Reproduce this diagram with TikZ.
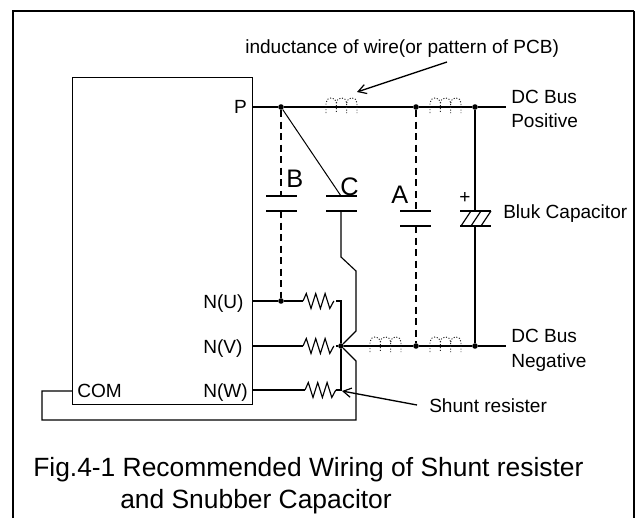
\documentclass[tikz,border=0pt]{standalone}
\usepackage{fontspec}
\setmainfont{Liberation Sans}
\usetikzlibrary{arrows.meta}
\newcommand{\ind}[2]{% left x, wire y
  \draw[indc] (#1,#2+6) -- (#1,#2-4) arc[start angle=180,delta angle=180,radius=5.17] -- ++(0,10)
    (#1+10.33,#2-4) arc[start angle=180,delta angle=180,radius=5.17] -- ++(0,10)
    (#1+20.67,#2-4) arc[start angle=180,delta angle=180,radius=5.17] -- ++(0,10);
}
\newcommand{\res}[2]{% left x, wire y
  \draw[wire] (#1,#2) -- ++(3.3,-7.5) -- ++(4.7,15) -- ++(4.7,-15) -- ++(4.7,15) -- ++(4.7,-15) -- ++(4.7,15) -- ++(4,-7.5);
}
\tikzset{
  x=0.75pt,y=-0.75pt,
  wire/.style={line width=0.85pt,line join=miter},
  dash wire/.style={line width=0.85pt,dash pattern=on 5.25pt off 3.4pt},
  indc/.style={line width=0.7pt,dash pattern=on 0.8pt off 1.3pt,black!85},
  plate/.style={line width=0.85pt},
  dotn/.style={circle,fill=black,inner sep=0pt,minimum size=4.2pt},
  lab/.style={font=\fontsize{14.3}{16}\selectfont,inner sep=0pt},
  big/.style={font=\fontsize{19}{21}\selectfont,inner sep=0pt},
  captext/.style={font=\fontsize{19.8}{22}\selectfont,inner sep=0pt,anchor=base west},
  pointer/.style={line width=1pt,-{Straight Barb[length=6pt,width=7pt,line width=0.9pt]}},
}
\begin{document}
\begin{tikzpicture}
\useasboundingbox (0,0) rectangle (635,518);
% frame
\coordinate (fa) at (13,518); \coordinate (fb) at (13,11); \coordinate (fc) at (634,11); \coordinate (fd) at (634,518);
\draw[line width=1.4pt] (fa) -- (fb) -- (fc);
\draw[line width=0.9pt] (fc) -- (fd);
% block
\node[draw,line width=0.85pt,minimum width=135pt,inner sep=0pt,minimum height=245.25pt,anchor=north west] (ic) at (72,77) {};
% junctions
\node[dotn] (j1) at (281,107) {};
\node[dotn] (j2) at (416,107) {};
\node[dotn] (j3) at (475,107) {};
\node[dotn] (j4) at (281,301) {};
\node[dotn] (j5) at (341,346) {};
\node[dotn] (j6) at (416,346) {};
\node[dotn] (j7) at (475,346) {};
\coordinate (pp) at (252,107); \coordinate (pend) at (506,107);
\coordinate (nu) at (252,301); \coordinate (nv) at (252,346); \coordinate (nw) at (252,390);
\coordinate (nend) at (506,346); \coordinate (com) at (72,391);
% rails
\draw[wire] (pp) -- (j1) -- (j2) -- (j3) -- (pend);
\draw[wire] (j5) -- (j6) -- (j7) -- (nend);
\draw[wire] (nu) -- (j4) -- (303,301);
\draw[wire] (nv) -- (303,346);
\draw[wire] (nw) -- (305,390);
\res{303}{301} \res{303}{346} \res{305}{390}
\draw[wire] (336,301) -- (341,301) -- (j5) -- (341,390) -- (336,390);
\draw[wire] (336,346) -- (j5);
% inductors
\ind{326}{107} \ind{430}{107} \ind{370}{346} \ind{430}{346}
% capacitor B
\coordinate (bt) at (281,196); \coordinate (bb) at (281,211);
\draw[dash wire] (j1) -- (bt);
\draw[dash wire] (bb) -- (j4);
\draw[plate] (266,196) -- (297,196) (266,211) -- (297,211);
% capacitor C
\coordinate (ct) at (341,196); \coordinate (cb) at (341,211);
\draw[line width=0.75pt] (j1) -- (ct);
\draw[plate] (326,196) -- (357,196) (326,211) -- (357,211);
\draw[wire] (cb) -- (341,257) -- (356,271) -- (356,331) -- (j5) -- (356,361) -- (356,420) -- (42,420) -- (42,391) -- (com);
% capacitor A
\coordinate (at) at (416,211); \coordinate (ab) at (416,226);
\draw[dash wire] (j2) -- (at);
\draw[dash wire] (ab) -- (j6);
\draw[plate] (400,211) -- (431,211) (400,226) -- (431,226);
% bulk capacitor
\coordinate (kt) at (475,211); \coordinate (kb) at (475,226);
\draw[wire] (j3) -- (kt) (kb) -- (j7);
\draw[plate] (460,211) -- (491,211) (460,226) -- (491,226);
\draw[plate] (461,226) -- (471,211) (471,226) -- (481,211) (481,226) -- (491,211);
% pointers
\coordinate (pa) at (447,62); \coordinate (pb) at (357,92);
\draw[pointer] (pa) -- (pb);
\coordinate (sa) at (417,405); \coordinate (sb) at (342,391);
\draw[pointer] (sa) -- (sb);
% labels
\node[lab,anchor=base west] (t1) at (245,53) {inductance of wire(or pattern of PCB)};
\node[lab,anchor=base east] (tp) at (247,113) {P};
\node[lab,anchor=base west] (tu) at (203,308) {N(U)};
\node[lab,anchor=base west] (tv) at (203,353) {N(V)};
\node[lab,anchor=base west] (tw) at (203,397) {N(W)};
\node[lab,anchor=base west] (tc) at (77,397) {COM};
\node[lab,anchor=base west] (dp1) at (511,103) {DC Bus};
\node[lab,anchor=base west] (dp2) at (511,127) {Positive};
\node[lab,anchor=base west] (dn1) at (511,342) {DC Bus};
\node[lab,anchor=base west] (dn2) at (511,367) {Negative};
\node[lab,anchor=base west] (tb) at (503,218) {Bluk Capacitor};
\node[lab,anchor=base west] (ts) at (429,412) {Shunt resister};
\node[lab,anchor=base] (tplus) at (465,203) {+};
\node[big,anchor=base west] (lb) at (286,187) {B};
\node[big,anchor=base west] (lc) at (340,195) {C};
\node[big,anchor=base west] (la) at (391,203) {A};
\node[captext] (c1) at (33,476) {Fig.4-1 Recommended Wiring of Shunt resister};
\node[captext] (c2) at (120,508) {and Snubber Capacitor};
\end{tikzpicture}
\end{document}
